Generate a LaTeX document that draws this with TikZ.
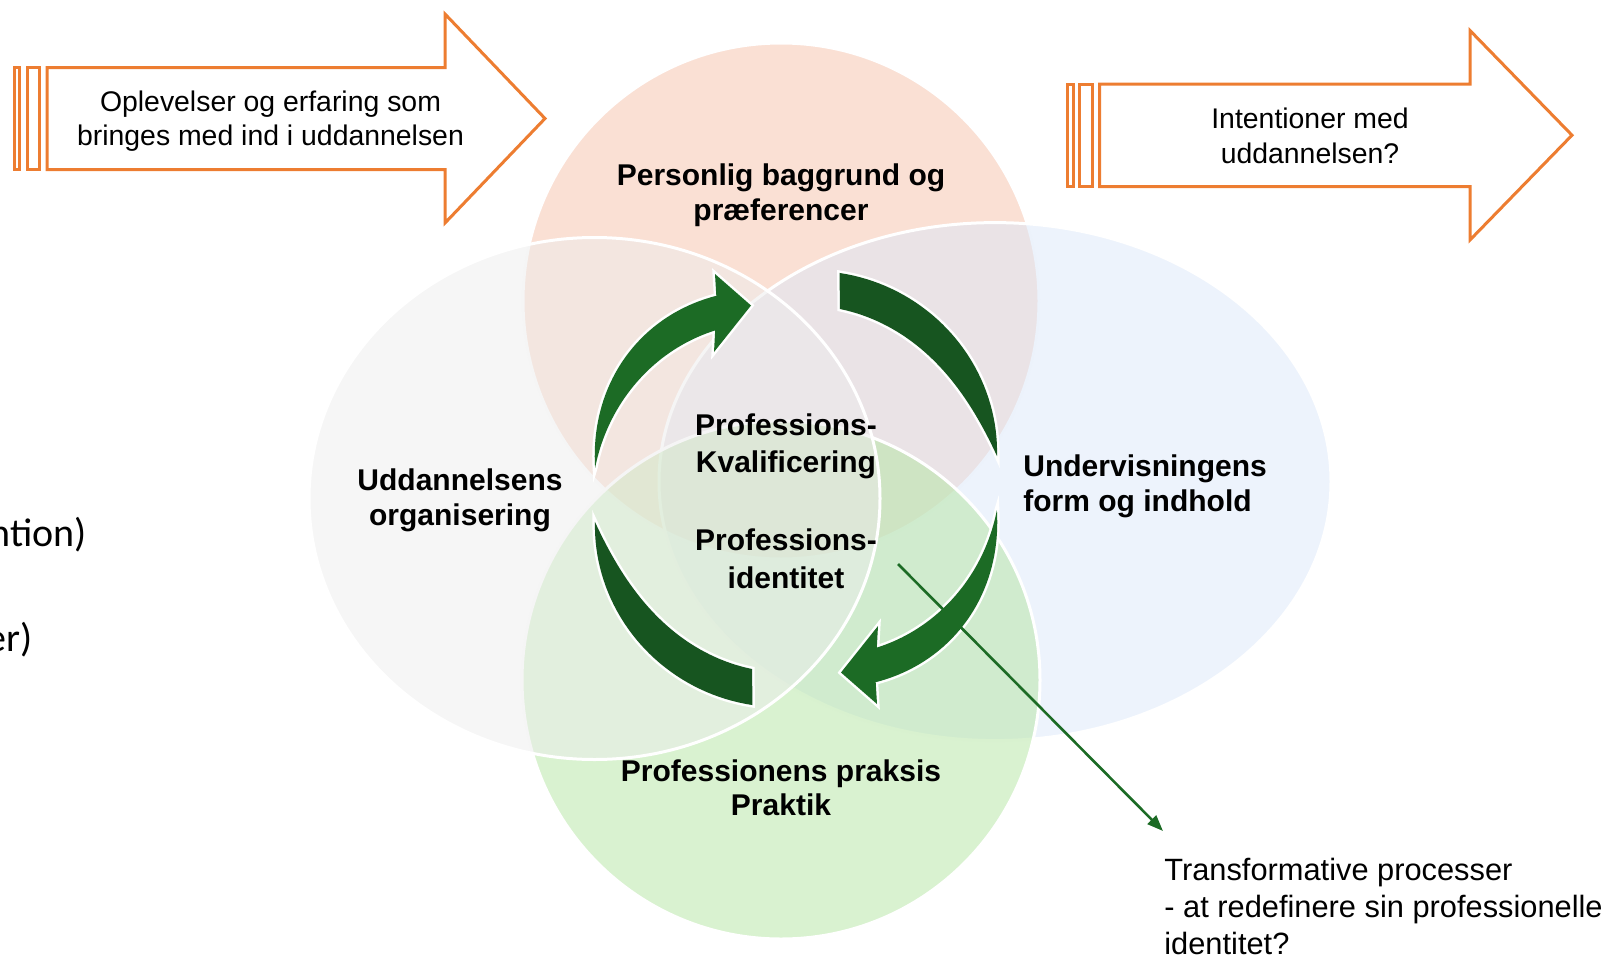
\documentclass[tikz,border=0pt]{standalone}
\usepackage{fontspec}
\setmainfont{Liberation Sans}
\newfontfamily\calibrifont{Carlito}
\usetikzlibrary{arrows.meta}
\definecolor{vpeach}{HTML}{F5C1A9}
\definecolor{vblue}{HTML}{DBE7F9}
\definecolor{vgreen}{HTML}{B3E5A1}
\definecolor{vgray}{HTML}{EDEDED}
\definecolor{orangeline}{HTML}{ED7D31}
\definecolor{garrowlight}{HTML}{1C6B25}
\definecolor{garrowdark}{HTML}{175520}
\definecolor{gline}{HTML}{1C6B25}
\tikzset{
  venn/.style={draw=white, line width=1.5pt, fill opacity=0.5},
  orangearrow/.style={draw=orangeline, line width=1.5pt, fill=white, line join=miter},
  garrowA/.style={fill=garrowlight, preaction={draw=white, line width=2.5pt, line join=miter}},
  garrowB/.style={fill=garrowdark, preaction={draw=white, line width=2.5pt, line join=miter}},
  labelbold/.style={font=\fontsize{15}{18}\selectfont\bfseries, anchor=base, inner sep=0pt},
  arrowtext/.style={font=\fontsize{14.2}{17}\selectfont, anchor=base, inner sep=0pt},
  transtext/.style={font=\fontsize{15.4}{18}\selectfont, anchor=base west, inner sep=0pt},
  cutoff/.style={font=\calibrifont\fontsize{20}{24}\selectfont, anchor=base east, inner sep=0pt},
  pointer/.style={draw=gline, line width=1.3pt, -{Triangle[length=8pt,width=6pt]}}
}
\begin{document}
\begin{tikzpicture}[x=0.5pt, y=-0.5pt]
\useasboundingbox (0,0) rectangle (1613,959);
\clip (0,0) rectangle (1613,959);

% Venn shapes
\path[venn, fill=vpeach] (781,301) circle[radius=129pt];
\path[venn, fill=vblue] (995,481.6) ellipse[x radius=168pt, y radius=129.5pt];
\path[venn, fill=vgreen] (781,680) circle[radius=129.5pt];
\path[venn, fill=vgray] (594.5,498.5) ellipse[x radius=142.75pt, y radius=130.5pt];

% left orange arrow
\path[orangearrow] (14.3,67.5) rectangle (19.3,169.5);
\path[orangearrow] (27.2,67.5) rectangle (39.1,169.5);
\path[orangearrow] (47,67.5) -- (445,67.5) -- (445,14) -- (545,118.5) -- (445,223) -- (445,169.5) -- (47,169.5) -- cycle;
\node[arrowtext] (l1) at (270.5,111) {Oplevelser og erfaring som};
\node[arrowtext] (l2) at (270.5,145.7) {bringes med ind i uddannelsen};

% right orange arrow
\path[orangearrow] (1067,84) rectangle (1073,186.5);
\path[orangearrow] (1079.5,84) rectangle (1092.5,186.5);
\path[orangearrow] (1099.5,84) -- (1470,84) -- (1470,30.5) -- (1572,135.2) -- (1470,240) -- (1470,186.5) -- (1099.5,186.5) -- cycle;
\node[arrowtext] (r1) at (1310,128.3) {Intentioner med};
\node[arrowtext] (r2) at (1310,163.3) {uddannelsen?};

% green cycle arrows (second pair is the first pair turned by 180 degrees)
\foreach \rot in {0,180}{
\begin{scope}[rotate around={\rot:(796,489)}]
\path[garrowA]
  plot[domain=0:1, samples=40, variable=\s]
    ({796+(202+14*sin(150*\s))*cos(174-61.6*\s)}, {489-(202+14*sin(150*\s))*sin(174-61.6*\s)})
  -- (715,274) -- (751,305.5) -- (714,352)
  -- plot[domain=0:1, samples=40, variable=\s]
    ({796+(202-24*(1-\s)*(0.75+0.25*(1-\s)))*cos(117+57*\s)}, {489-(202-24*(1-\s)*(0.75+0.25*(1-\s)))*sin(117+57*\s)})
  -- cycle;
\path[garrowB]
  plot[domain=0:1, samples=40, variable=\s]
    ({796+(203.7+16.7*(1-\s)+30*\s*(1-\s))*cos(78.6-69.3*\s)}, {489-(203.7+16.7*(1-\s)+30*\s*(1-\s))*sin(78.6-69.3*\s)})
  -- plot[domain=0:1, samples=40, variable=\s]
    ({796+(185.3+18.4*(1-\s)*(1-\s)*(1-\s)*(1-\s)+8*(1-\s)*\s)*cos(9.3+67*\s)}, {489-(185.3+18.4*(1-\s)*(1-\s)*(1-\s)*(1-\s)+8*(1-\s)*\s)*sin(9.3+67*\s)})
  -- cycle;
\end{scope}
}

% labels
\node[labelbold] (p1) at (781,185.5) {Personlig baggrund og};
\node[labelbold] (p2) at (781,220) {præferencer};
\node[labelbold] (u1) at (460,490) {Uddannelsens};
\node[labelbold] (u2) at (460,525) {organisering};
\node[labelbold, anchor=base west] (v1) at (1023,476) {Undervisningens};
\node[labelbold, anchor=base west] (v2) at (1023,511) {form og indhold};
\node[labelbold] (k1) at (786,435) {Professions-};
\node[labelbold] (k2) at (786,472) {Kvalificering};
\node[labelbold] (i1) at (786,550) {Professions-};
\node[labelbold] (i2) at (786,588) {identitet};
\node[labelbold] (b1) at (781,781) {Professionens praksis};
\node[labelbold] (b2) at (781,815) {Praktik};

% transformative pointer
\coordinate (tstart) at (898,564);
\coordinate (tend) at (1163,831);
\draw[pointer] (tstart) -- (tend);
\node[transtext] (t1) at (1164,880) {Transformative processer};
\node[transtext] (t2) at (1164,917) {- at redefinere sin professionelle};
\node[transtext] (t3) at (1164,954) {identitet?};

% cut-off text at left edge
\node[cutoff] (c1) at (87.5,546) {ntion)};
\node[cutoff] (c2) at (33,651) {er)};
\end{tikzpicture}
\end{document}
